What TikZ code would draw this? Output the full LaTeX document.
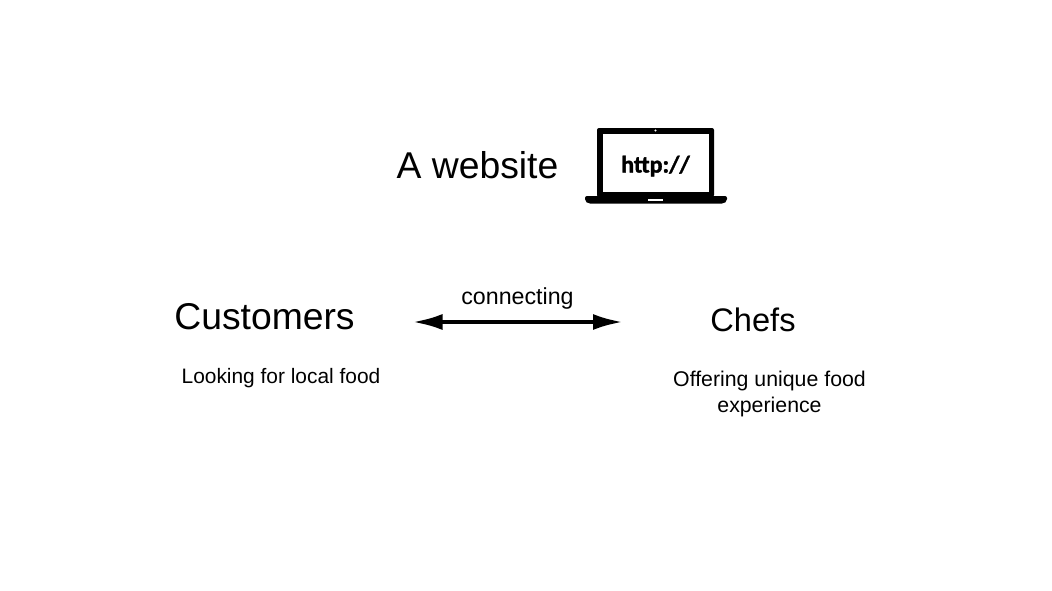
\documentclass[tikz,border=0pt]{standalone}
\usepackage{fontspec}
\setmainfont{Liberation Sans}
\newfontfamily\urlfont[FakeBold=1.5]{Carlito}
\usetikzlibrary{arrows.meta}
\tikzstyle{bigtitle} = [inner sep=0pt, anchor=base, font=\fontsize{37.3}{44}\selectfont]
\tikzstyle{chefstitle} = [inner sep=0pt, anchor=base, font=\fontsize{32.6}{39}\selectfont]
\tikzstyle{smalltext} = [inner sep=0pt, align=center, font=\fontsize{20.9}{26}\selectfont]
\tikzstyle{linktext} = [inner sep=0pt, anchor=base, font=\fontsize{23.2}{28}\selectfont]
\tikzstyle{linkarrow} = [line width=4pt, {Latex[length=30pt,width=16pt]}-{Latex[length=30pt,width=16pt]}]

\begin{document}
\begin{tikzpicture}[x=1pt,y=-1pt]
                \useasboundingbox (0,0) rectangle (1052,590);
                \node [bigtitle] (website) at (477.5,178) {A website};
                % laptop
                \fill [rounded corners=2pt] (597,128) rectangle (714,197);
                \fill [rounded corners=2pt] (585,196) -- (727,196) -- (727,201) -- (724,203.5) -- (588,203.5) -- (585,201) -- cycle;
                \fill [white] (602.5,134) rectangle (708.5,191.5);
                \fill [white] (648,198.5) rectangle (663,201);
                \fill [white] (655.5,130.5) circle (1.2pt);
                \node [inner sep=0pt, font=\urlfont\bfseries\fontsize{24}{28}\selectfont] (url) at (655.5,166) {http://};
                % bottom row
                \node [bigtitle] (customers) at (264.5,329) {Customers};
                \node [chefstitle] (chefs) at (753,331.5) {Chefs};
                \node [smalltext] (looking) at (281,378) {Looking for local food};
                \node [smalltext, font=\fontsize{21.3}{26}\selectfont] (offering) at (769.5,393.5) {Offering unique food\\experience};
                \node [linktext] (connecting) at (517.5,304) {connecting};
                \coordinate (linkleft) at (412.5,322);
                \coordinate (linkright) at (623,322);
                \draw [linkarrow] (linkleft) -- (linkright);
            \end{tikzpicture}
\end{document}
